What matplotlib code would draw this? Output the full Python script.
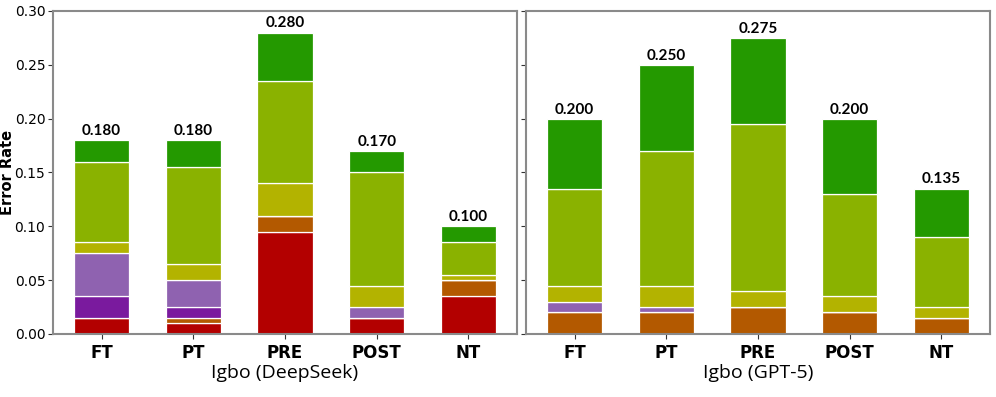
import numpy as np
import matplotlib
matplotlib.use("Agg")
import matplotlib.pyplot as plt

cats = ["FT", "PT", "PRE", "POST", "NT"]
layer_colors = ["#b30000", "#b35900", "#7a1a9e", "#8f62b0", "#b3b300", "#8ab200", "#249900"]

# stacked segments, bottom to top: red, orange, dark purple, light purple, yellow, yellow-green, green
deepseek = [
    [0.015, 0.010, 0.095, 0.015, 0.035],
    [0.000, 0.005, 0.015, 0.000, 0.015],
    [0.020, 0.010, 0.000, 0.000, 0.000],
    [0.040, 0.025, 0.000, 0.010, 0.000],
    [0.010, 0.015, 0.030, 0.020, 0.005],
    [0.075, 0.090, 0.095, 0.105, 0.030],
    [0.020, 0.025, 0.045, 0.020, 0.015],
]
gpt5 = [
    [0.000, 0.000, 0.000, 0.000, 0.000],
    [0.020, 0.020, 0.025, 0.020, 0.015],
    [0.000, 0.000, 0.000, 0.000, 0.000],
    [0.010, 0.005, 0.000, 0.000, 0.000],
    [0.015, 0.020, 0.015, 0.015, 0.010],
    [0.090, 0.125, 0.155, 0.095, 0.065],
    [0.065, 0.080, 0.080, 0.070, 0.045],
]
titles = ["Igbo (DeepSeek)", "Igbo (GPT-5)"]

fig = plt.figure(figsize=(9.96, 3.97), dpi=100)
ax1 = fig.add_axes([0.0532, 0.1587, 0.4659, 0.8136])
ax2 = fig.add_axes([0.5281, 0.1587, 0.4659, 0.8136], sharey=ax1)

x = np.arange(len(cats))
for ax, data, title in zip([ax1, ax2], [deepseek, gpt5], titles):
    bottom = np.zeros(len(cats))
    for seg, col in zip(data, layer_colors):
        seg = np.array(seg)
        ax.bar(x, seg, 0.6, bottom=bottom, color=col, edgecolor="white", linewidth=0.9)
        bottom += seg
    for xi, tot in zip(x, bottom):
        ax.text(xi, tot + 0.002, f"{tot:.3f}", ha="center", va="bottom",
                fontsize=11, fontweight="bold", family="Lato")
    ax.set_xticks(x)
    ax.set_xticklabels(cats, fontsize=12, fontweight="bold")
    ax.set_xlabel(title, fontsize=14, family="Open Sans", labelpad=2)
    for sp in ax.spines.values():
        sp.set_color("#8a8a8a")
        sp.set_linewidth(1.5)
    ax.tick_params(colors="#333333", labelcolor="black")

ax1.set_ylim(0, 0.30)
ax1.set_yticks(np.arange(0, 0.31, 0.05))
ax1.tick_params(axis="y", labelsize=10, length=3.5, pad=2)
ax1.set_ylabel("Error Rate", fontsize=10.5, fontweight="bold")
ax1.yaxis.set_label_coords(-0.081, 0.5)
ax2.tick_params(axis="y", labelleft=False, length=3.5)

fig.savefig("out.png", dpi=100)
